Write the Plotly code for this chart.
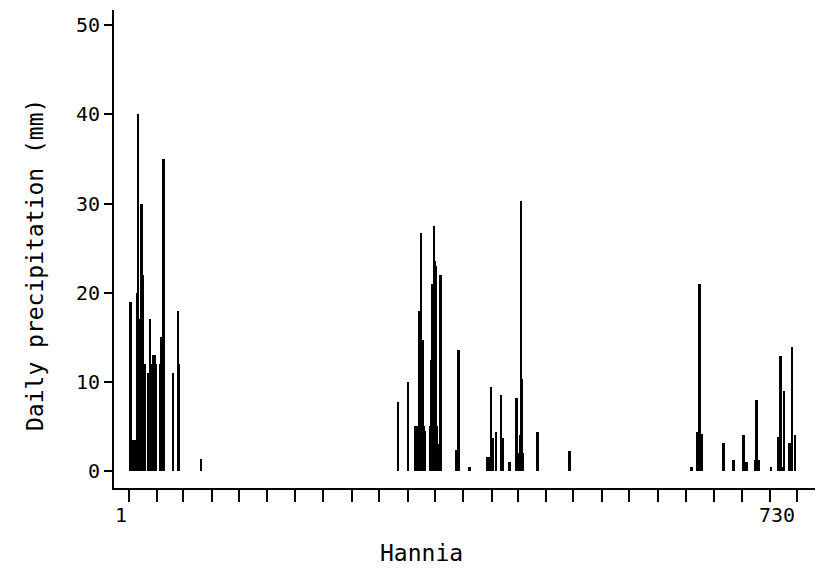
import plotly.graph_objects as go

# ---- data (day index, daily precipitation in mm) ----
days = [3, 4, 5, 6, 7, 8, 9, 10, 11, 12, 15, 16, 17, 18, 19, 22, 23, 24, 25, 26,
        27, 28, 29, 30, 31, 35, 36, 37, 38, 39, 49, 55, 56, 80,
        295, 306, 314, 315, 316, 317, 318, 319, 320, 321, 322, 323, 324,
        330, 331, 332, 333, 334, 335, 336, 337, 338, 339, 341,
        358, 359, 360, 361, 373, 392, 393, 394, 396, 397, 398, 402, 407, 408, 409,
        416, 417, 424, 425, 426, 427, 428, 429, 430, 431, 447, 482,
        615, 621, 624, 626, 650, 661, 672, 674, 675, 685, 686, 687, 688,
        702, 710, 712, 714, 716, 722, 725, 728]
precip = [19, 3.5, 3.5, 3.5, 3.5, 3.5, 3.5, 20, 40, 17, 30, 22, 12, 12, 12, 11, 11, 17, 6.5, 6,
          12, 13, 13, 12, 12, 12, 15, 12, 12, 35, 11, 18, 12, 1.3,
          7.7, 10, 5, 5, 4.5, 5, 18, 5, 26.7, 14.7, 14.7, 5, 4.5,
          5, 12.4, 21, 21, 27.5, 23.5, 23, 5, 3, 3, 22,
          2.4, 2.4, 2.4, 13.6, 0.5, 1.6, 1.6, 1.6, 9.4, 3.7, 3.7, 4.4, 8.5, 3.7, 3.7,
          1.0, 1.0, 8.2, 2, 2, 2, 4, 30.3, 10.3, 2, 4.4, 2.3,
          0.5, 4.4, 21, 4.1, 3.2, 1.2, 4.0, 1.0, 1.0, 1.2, 8.0, 1.2, 1.2,
          0.5, 3.8, 12.9, 0.5, 9.0, 3.1, 13.9, 4.0]

x_tickvals = [1, 32, 60, 91, 121, 152, 182, 213, 244, 274, 305, 335,
              366, 397, 425, 456, 486, 517, 547, 578, 609, 639, 670, 700, 730]
x_ticktext = ["1"] + [""] * 23 + ["730"]
y_tickvals = [0, 10, 20, 30, 40, 50]

FONT = "DejaVu Sans Mono"

fig = go.Figure()
fig.add_trace(go.Bar(
    x=days, y=precip, width=2.1,
    marker=dict(color="black", line=dict(width=0)),
    showlegend=False,
))

fig.update_layout(
    width=822, height=583,
    margin=dict(l=114, r=7, t=10, b=95),
    paper_bgcolor="white", plot_bgcolor="white",
    bargap=0,
    font=dict(family=FONT, color="black", size=20),
    xaxis=dict(
        range=[-15.4, 749.6],
        showgrid=False, zeroline=False,
        showline=True, linecolor="black", linewidth=2,
        ticks="outside", ticklen=12, tickwidth=2, tickcolor="black",
        tickvals=x_tickvals, ticktext=x_ticktext,
        ticklabelposition="outside left",
        ticklabelstandoff=8,
        tickfont=dict(family=FONT, size=20, color="black"),
    ),
    yaxis=dict(
        range=[-1.9, 51.7],
        showgrid=False, zeroline=False,
        showline=True, linecolor="black", linewidth=2,
        ticks="outside", ticklen=8, tickwidth=2, tickcolor="black",
        tickvals=y_tickvals,
        tickfont=dict(family=FONT, size=20, color="black"),
        ticklabelstandoff=0,
    ),
    annotations=[
        dict(text="Daily precipitation (mm)", textangle=-90,
             xref="paper", yref="paper", x=-0.1127, y=0.4665,
             xanchor="center", yanchor="middle", showarrow=False,
             font=dict(family=FONT, size=23, color="black")),
        dict(text="Hannia",
             xref="paper", yref="paper", x=0.438, y=-0.136,
             xanchor="center", yanchor="middle", showarrow=False,
             font=dict(family=FONT, size=23, color="black")),
    ],
)

fig.write_html("out.html")
